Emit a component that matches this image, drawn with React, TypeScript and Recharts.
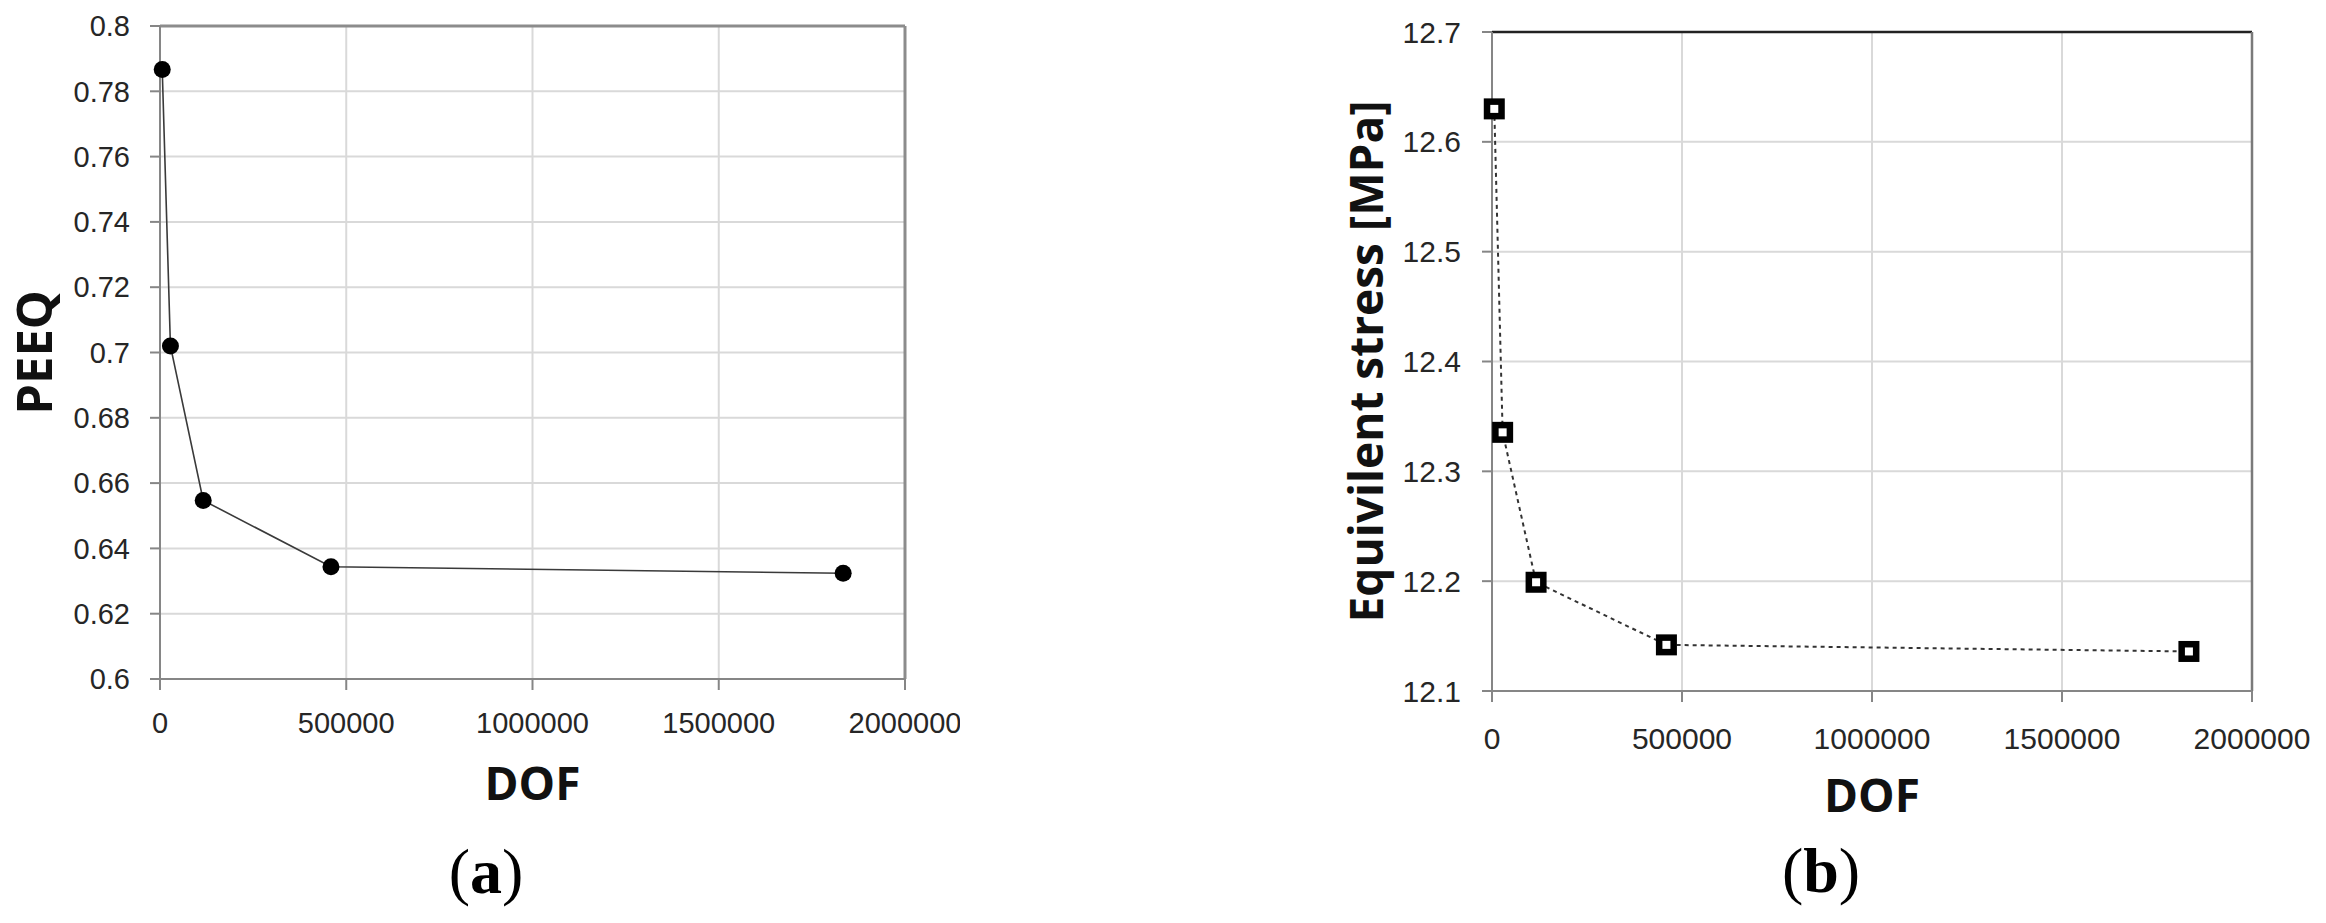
import React from 'react';
import { LineChart, Line, XAxis, YAxis, CartesianGrid, ReferenceLine, Label } from 'recharts';

// degrees of freedom of the five meshes (same for both panels)
const DOF = [6000, 28000, 116000, 459000, 1834000];
const PEEQ = [0.7867, 0.702, 0.6547, 0.6344, 0.6324];
const STRESS = [12.63, 12.3355, 12.199, 12.142, 12.136];

const X_TICKS = [0, 500000, 1000000, 1500000, 2000000];
const PEEQ_TICKS = [0.6, 0.62, 0.64, 0.66, 0.68, 0.7, 0.72, 0.74, 0.76, 0.78, 0.8];
const STRESS_TICKS = [12.1, 12.2, 12.3, 12.4, 12.5, 12.6, 12.7];

const peeqData = DOF.map((d, i) => ({ dof: d, peeq: PEEQ[i] }));
const stressData = DOF.map((d, i) => ({ dof: d, stress: STRESS[i] }));

const TICK_FONT = 'Liberation Sans, Arial, sans-serif';
const TITLE_FONT = 'Open Sans, sans-serif';
const SERIF = 'Liberation Serif, Times New Roman, serif';
const AXIS_GRAY = '#868686';

function xTitle(caption: string, captionDx: number, captionDy: number) {
  return (p: any) => {
    const vb = p.viewBox;
    const cx = vb.x + vb.width / 2;
    return (
      <g>
        <text x={cx} y={vb.y + 121} textAnchor="middle" fontFamily={TITLE_FONT} fontWeight={700} fontSize={46} fill="#111">
          DOF
        </text>
        <text x={vb.x + captionDx} y={vb.y + captionDy} textAnchor="middle" fontFamily={SERIF} fontSize={64} fill="#000">
          <tspan>(</tspan>
          <tspan fontWeight="bold">{caption}</tspan>
          <tspan>)</tspan>
        </text>
      </g>
    );
  };
}

function yTitle(text: string, dx: number, size: number) {
  return (p: any) => {
    const vb = p.viewBox;
    const x = vb.x + dx;
    const y = vb.y + vb.height / 2;
    return (
      <text
        x={x}
        y={y}
        transform={`rotate(-90 ${x} ${y})`}
        textAnchor="middle"
        dominantBaseline="central"
        fontFamily={TITLE_FONT}
        fontWeight={700}
        fontSize={size}
        fill="#111"
      >
        {text}
      </text>
    );
  };
}

function SquareDot(props: any) {
  const { cx, cy } = props;
  if (cx == null || cy == null) return null;
  return <rect x={cx - 7.25} y={cy - 7.25} width={14.5} height={14.5} fill="#fff" stroke="#000" strokeWidth={6.5} />;
}

function PeeqChart() {
  return (
    <LineChart width={960} height={923} data={peeqData} margin={{ top: 26, right: 55, left: 0, bottom: 144 }}>
      <CartesianGrid stroke="#d9d9d9" strokeWidth={2} />
      <XAxis
        dataKey="dof"
        type="number"
        domain={[0, 2000000]}
        ticks={X_TICKS}
        height={100}
        stroke={AXIS_GRAY}
        strokeWidth={2}
        tickSize={11}
        tickMargin={22}
        tick={{ fontFamily: TICK_FONT, fontSize: 29, fill: '#262626' }}
      >
        <Label content={xTitle('a', 326, 214)} />
      </XAxis>
      <YAxis
        type="number"
        domain={[0.6, 0.8]}
        ticks={PEEQ_TICKS}
        width={160}
        stroke={AXIS_GRAY}
        strokeWidth={2}
        tickSize={10}
        tickMargin={20}
        tick={{ fontFamily: TICK_FONT, fontSize: 29, fill: '#262626' }}
      >
        <Label content={yTitle('PEEQ', 33, 49)} />
      </YAxis>
      <ReferenceLine y={0.8} stroke="#8c8c8c" strokeWidth={3} />
      <ReferenceLine x={2000000} stroke="#8c8c8c" strokeWidth={3} />
      <Line
        type="linear"
        dataKey="peeq"
        stroke="#3a3a3a"
        strokeWidth={1.6}
        dot={{ r: 8.5, fill: '#000', stroke: '#000', strokeWidth: 0 }}
        activeDot={false}
        isAnimationActive={false}
      />
    </LineChart>
  );
}

function StressChart() {
  return (
    <LineChart width={1146} height={923} data={stressData} margin={{ top: 32, right: 74, left: 0, bottom: 132 }}>
      <CartesianGrid stroke="#d9d9d9" strokeWidth={2} />
      <XAxis
        dataKey="dof"
        type="number"
        domain={[0, 2000000]}
        ticks={X_TICKS}
        height={100}
        stroke={AXIS_GRAY}
        strokeWidth={2}
        tickSize={11}
        tickMargin={26}
        tick={{ fontFamily: TICK_FONT, fontSize: 30, fill: '#262626' }}
      >
        <Label content={xTitle('b', 329, 201)} />
      </XAxis>
      <YAxis
        type="number"
        domain={[12.1, 12.7]}
        ticks={STRESS_TICKS}
        width={312}
        stroke={AXIS_GRAY}
        strokeWidth={2}
        tickSize={10}
        tickMargin={21}
        tick={{ fontFamily: TICK_FONT, fontSize: 30, fill: '#262626' }}
      >
        <Label content={yTitle('Equivilent stress [MPa]', 185, 46)} />
      </YAxis>
      <ReferenceLine y={12.7} stroke="#222" strokeWidth={2.5} />
      <ReferenceLine x={2000000} stroke="#7a7a7a" strokeWidth={2.5} />
      <Line
        type="linear"
        dataKey="stress"
        stroke="#333"
        strokeWidth={2}
        strokeDasharray="4 4"
        dot={<SquareDot />}
        activeDot={false}
        isAnimationActive={false}
      />
    </LineChart>
  );
}

export default function App() {
  return (
    <div style={{ position: 'absolute', left: 0, top: 0, width: 2326, height: 923, background: '#fff' }}>
      <div style={{ position: 'absolute', left: 0, top: 0 }}>
        <PeeqChart />
      </div>
      <div style={{ position: 'absolute', left: 1180, top: 0 }}>
        <StressChart />
      </div>
    </div>
  );
}
